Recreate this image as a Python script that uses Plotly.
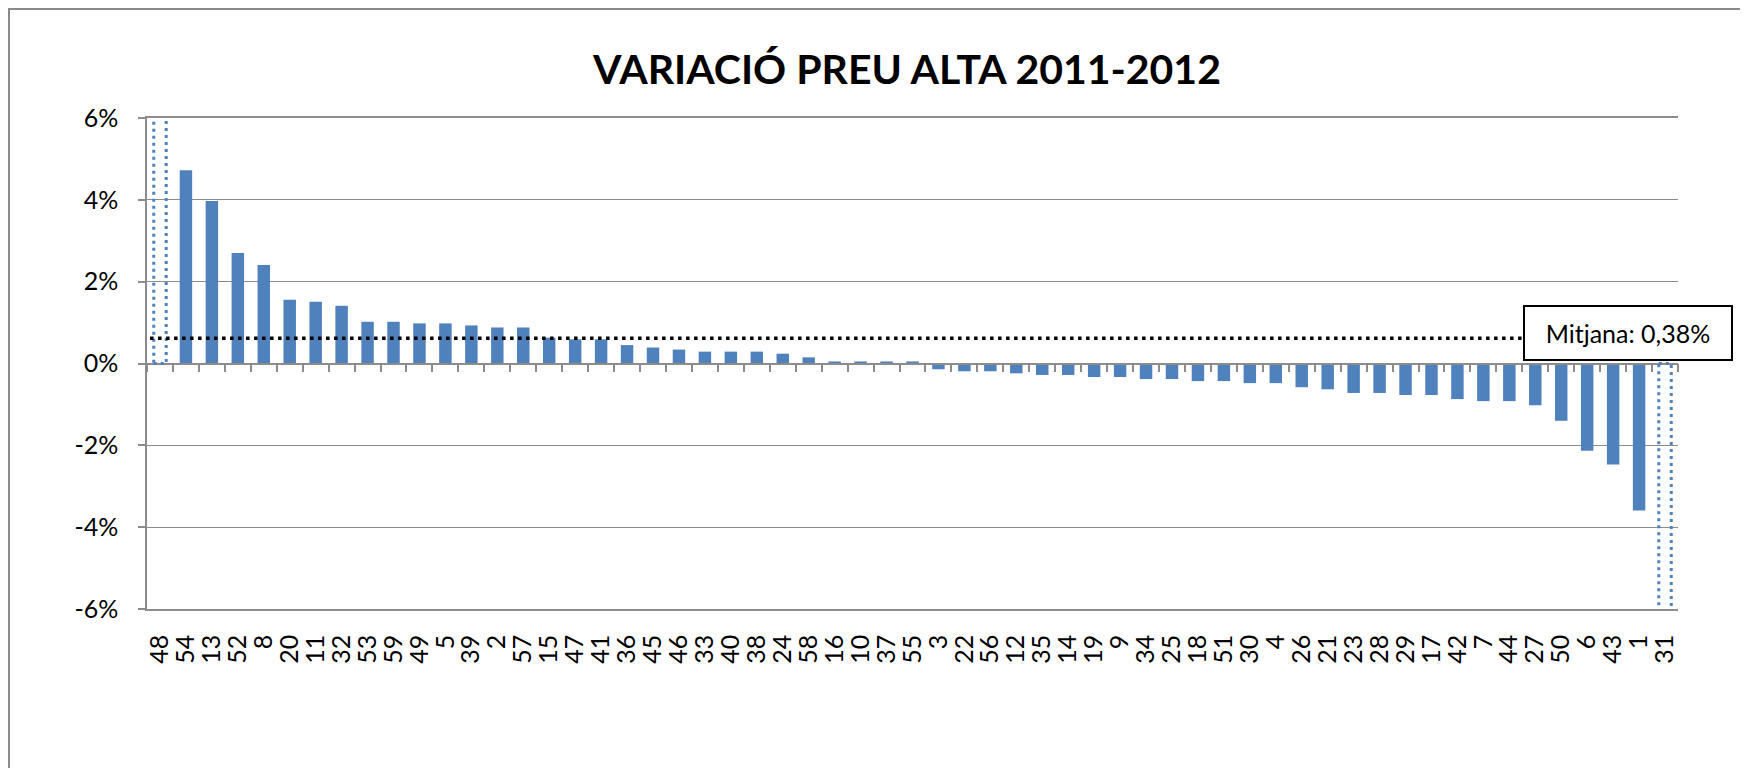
import plotly.graph_objects as go

# ---------------- data ----------------
categories = ["48", "54", "13", "52", "8", "20", "11", "32", "53", "59",
              "49", "5", "39", "2", "57", "15", "47", "41", "36", "45",
              "46", "33", "40", "38", "24", "58", "16", "10", "37", "55",
              "3", "22", "56", "12", "35", "14", "19", "9", "34", "25",
              "18", "51", "30", "4", "26", "21", "23", "28", "29", "17",
              "42", "7", "44", "27", "50", "6", "43", "1", "31"]
values = [6.5, 4.72, 3.97, 2.70, 2.41, 1.56, 1.51, 1.41, 1.02, 1.02,
          0.98, 0.98, 0.93, 0.88, 0.88, 0.63, 0.59, 0.59, 0.45, 0.39,
          0.34, 0.29, 0.29, 0.29, 0.24, 0.15, 0.05, 0.05, 0.05, 0.05,
          -0.14, -0.19, -0.19, -0.24, -0.28, -0.28, -0.33, -0.33, -0.38, -0.38,
          -0.43, -0.43, -0.48, -0.48, -0.58, -0.63, -0.72, -0.72, -0.77, -0.77,
          -0.87, -0.92, -0.92, -1.02, -1.40, -2.13, -2.47, -3.59, -6.5]
off_scale = ["48", "31"]          # drawn as dotted outlines (beyond axis range)
mean_line_pct = 0.62
mean_label = "Mitjana: 0,38%"
title_text = "VARIACIÓ PREU ALTA 2011-2012"
y_tick_vals = [-6, -4, -2, 0, 2, 4, 6]
y_tick_text = ["-6%", "-4%", "-2%", "0%", "2%", "4%", "6%"]
y_range = [-6, 6]

# ---------------- style ----------------
W, H = 1748, 768
OFF = 8  # page body margin offset compensation
M_L, M_R, M_T, M_B = 147 - OFF, 70 + OFF, 118 - OFF, 159 + OFF
BAR_BLUE = "#4f81bd"
GRID = "#8c8c8c"
FONT = "Lato, 'Open Sans', sans-serif"
BAR_W = 0.48

bar_colors = ["rgba(0,0,0,0)" if c in off_scale else BAR_BLUE for c in categories]

fig = go.Figure()
fig.add_trace(go.Bar(x=categories, y=values, width=BAR_W,
                     marker=dict(color=bar_colors, line=dict(width=0)),
                     showlegend=False, hoverinfo="x+y"))
# helper trace for the zero-line category axis (tick marks)
fig.add_trace(go.Scatter(x=categories, y=[0] * len(categories), xaxis="x2",
                         mode="markers", marker=dict(opacity=0),
                         showlegend=False, hoverinfo="skip"))

shapes = []
# dotted outline bars for off-scale values
for c in off_scale:
    i = categories.index(c)
    shapes.append(dict(type="rect", xref="x", yref="y",
                       x0=i - BAR_W / 2, x1=i + BAR_W / 2, y0=0, y1=values[i],
                       line=dict(color=BAR_BLUE, width=3, dash="3px,4px"),
                       fillcolor="rgba(0,0,0,0)", layer="above"))
# mean line
shapes.append(dict(type="line", xref="x domain", yref="y", x0=0.002, x1=1,
                   y0=mean_line_pct, y1=mean_line_pct,
                   line=dict(color="black", width=3.5, dash="3.5px,4.5px"), layer="above"))
# outer chart frame (left and top edges visible; the rest lies outside the page)
pw = W - M_L - M_R
ph = H - M_T - M_B
fx0 = (9 - OFF - M_L) / pw
fx1 = (W + 200 - M_L) / pw
fy0 = (M_T + ph - (H + 200)) / ph
fy1 = (M_T + ph - (9 - OFF)) / ph
shapes.append(dict(type="path", xref="paper", yref="paper",
                   path=f"M {fx0},{fy0} L {fx0},{fy1} L {fx1},{fy1}",
                   line=dict(color="#8a8a8a", width=2), layer="below"))

zero_pos = (0 - y_range[0]) / (y_range[1] - y_range[0])

fig.update_layout(
    width=W, height=H,
    margin=dict(l=M_L, r=M_R, t=M_T, b=M_B),
    paper_bgcolor="white", plot_bgcolor="white",
    bargap=1 - BAR_W,
    shapes=shapes,
    title=dict(text=title_text, x=(907 - OFF) / W, xanchor="center", xref="container",
               y=1 - (70 - OFF) / H, yanchor="middle", yref="container",
               font=dict(family="Lato, sans-serif", size=41, color="black", weight="bold")),
    xaxis=dict(type="category", categoryorder="array", categoryarray=categories,
               tickmode="array", tickvals=categories, ticktext=categories,
               range=[-0.5, len(categories) - 0.5],
               showline=True, mirror=True, linecolor=GRID, linewidth=1.5,
               ticks="", tickangle=-90, showgrid=False, zeroline=False,
               ticklabelstandoff=14,
               tickfont=dict(family=FONT, size=25, color="black")),
    xaxis2=dict(type="category", overlaying="x", matches="x", anchor="free",
                position=zero_pos, side="bottom",
                showline=True, linecolor=GRID, linewidth=1.8,
                ticks="outside", ticklen=8, tickwidth=1.5, tickcolor=GRID,
                tickson="boundaries", showticklabels=False, showgrid=False,
                zeroline=False),
    yaxis=dict(range=y_range, tickmode="array", tickvals=y_tick_vals, ticktext=y_tick_text,
               showgrid=True, gridcolor=GRID, gridwidth=1.3, zeroline=False,
               showline=True, linecolor=GRID, linewidth=1.5,
               ticks="outside", ticklen=7, tickwidth=1.5, tickcolor=GRID,
               ticklabelstandoff=15,
               tickfont=dict(family=FONT, size=25, color="black")),
    annotations=[dict(text=mean_label, xref="paper", yref="paper",
                      x=(1628 - OFF - M_L) / pw, y=(M_T + ph - (333 - OFF)) / ph,
                      xanchor="center", yanchor="middle", showarrow=False,
                      width=206, height=52, borderwidth=2, borderpad=0,
                      bordercolor="black", bgcolor="white",
                      font=dict(family=FONT, size=25, color="black"))],
)

fig.write_html("out.html")
